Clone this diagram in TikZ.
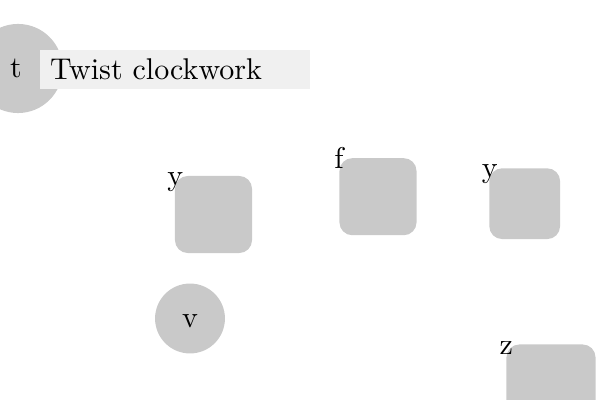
\documentclass[tikz,border=0pt]{standalone}
\begin{document}
\begin{tikzpicture}[x=0.33333pt,y=-0.33333pt,
  disc/.style={circle,fill=black!21,inner sep=0pt},
  sq/.style={rectangle,rounded corners=4.3pt,fill=black!21,inner sep=0pt},
  tag/.style={anchor=base,inner sep=0pt},
  banner/.style={rectangle,fill=black!6,inner xsep=3.33pt,inner ysep=0pt,
    minimum height=13pt,text width=83.33pt,align=left}]
\useasboundingbox (0,0) rectangle (600,400);
\node[disc,minimum size=29.7pt] (t) at (18,68.5) {};
\node[tag] (tt) at (16,77.5) {t};
\node[banner] (tw) at (175,69.5) {Twist clockwork};
\node[sq,minimum size=25.7pt] (b1) at (213.5,214.5) {};
\node[sq,minimum size=25.7pt] (b2) at (378,196.7) {};
\node[sq,minimum size=23.6pt] (b3) at (524.7,203.7) {};
\node[sq,minimum size=29.7pt] (b4) at (551,389) {};
\node[disc,minimum size=23.3pt] (v) at (190,318.5) {};
\node[tag] (tv) at (190,328) {v};
\node[tag] (l1) at ([shift={(1,10)}]b1.north west) {y};
\node[tag] (l2) at ([shift={(0,10.5)}]b2.north west) {f};
\node[tag] (l3) at ([shift={(1,10)}]b3.north west) {y};
\node[tag] (l4) at ([shift={(0.5,10.5)}]b4.north west) {z};
\end{tikzpicture}
\end{document}
